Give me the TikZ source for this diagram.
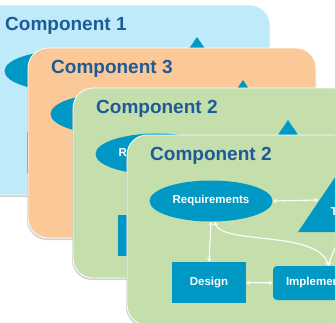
\documentclass[tikz,border=0pt]{standalone}
\usepackage{fontspec}
\setmainfont{Liberation Sans}
\usetikzlibrary{shadows,arrows.meta,shapes.geometric}
\usepackage{xcolor}

\definecolor{cardblue}{HTML}{BEEAFA}
\definecolor{cardorange}{HTML}{FBC998}
\definecolor{cardgreen}{HTML}{C4DEAC}
\definecolor{partteal}{HTML}{0098C4}
\definecolor{titleblue}{HTML}{1E5A96}

\tikzset{
    card/.style={rounded corners=20pt, draw=white, line width=0.8pt,
        drop shadow={shadow xshift=-1pt, shadow yshift=-2pt, opacity=.35}},
    cardtitle/.style={anchor=base west, inner sep=0pt, text=titleblue,
        font=\bfseries\fontsize{19}{19}\selectfont},
    part/.style={fill=partteal, text=white, inner sep=0pt,
        font=\bfseries\fontsize{11.5}{12}\selectfont},
    reqshape/.style={part, ellipse, minimum width=123pt, minimum height=41pt},
    boxshape/.style={part, rectangle, minimum width=74pt, minimum height=41pt},
    implshape/.style={part, rectangle, rounded corners=4pt, minimum width=111pt, minimum height=34pt},
    link/.style={white, line width=1.1pt, <->, >={Stealth[length=4pt,width=4.5pt]}}
}

\begin{document}
\begin{tikzpicture}[x=1pt, y=-1pt]
    \useasboundingbox (0,0) rectangle (335,322);
    \clip (0,0) rectangle (335,322);
    % one card per component, back to front
    \foreach \cx/\cy/\cfill/\ctitle [count=\i] in
        {-18/5/cardblue/1, 28/48/cardorange/3, 73/88/cardgreen/2, 127/135/cardgreen/2} {
        \begin{scope}[shift={(\cx,\cy)}]
            \draw[card, fill=\cfill] (0,0) rectangle (288,190);
            \node[cardtitle] (title\i) at (23,25) {Component \ctitle};
            \node[reqshape] (req\i) at (84,66) {Requirements};
            \fill[partteal] (215,32) -- (259,97) -- (171,97) -- cycle;
            \coordinate (testw\i) at (191,65);
            \coordinate (tests\i) at (213,97);
            \node[part, fill=none] (test\i) at (215,77) {Test};
            \node[boxshape] (des\i) at (82,147.5) {Design};
            \node[implshape] (imp\i) at (201.5,148) {Implementation};
            \draw[link] (req\i.east) -- (testw\i);
            \draw[link] (req\i.south) -- (des\i.north);
            \draw[link] (des\i) -- (imp\i);
            \draw[link] (req\i.-80) .. controls (95,110) and (190,95) .. (imp\i.north);
            \draw[link] (tests\i) to[out=-100, in=75] (imp\i.north);
        \end{scope}
    }
\end{tikzpicture}
\end{document}
